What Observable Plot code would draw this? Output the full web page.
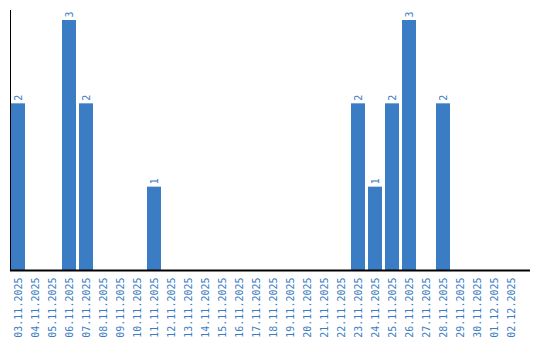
<!DOCTYPE html>
<html>
<head>
<meta charset="utf-8">
<script src="https://cdn.jsdelivr.net/npm/d3@7"></script>
<script src="https://cdn.jsdelivr.net/npm/@observablehq/plot@0.6"></script>
<style>
  html, body { margin: 0; padding: 0; background: #fff; }
  #chart svg { display: block; }
</style>
</head>
<body>
<div id="chart"></div>
<script>
const dates = [
  "03.11.2025","04.11.2025","05.11.2025","06.11.2025","07.11.2025","08.11.2025",
  "09.11.2025","10.11.2025","11.11.2025","12.11.2025","13.11.2025","14.11.2025",
  "15.11.2025","16.11.2025","17.11.2025","18.11.2025","19.11.2025","20.11.2025",
  "21.11.2025","22.11.2025","23.11.2025","24.11.2025","25.11.2025","26.11.2025",
  "27.11.2025","28.11.2025","29.11.2025","30.11.2025","01.12.2025","02.12.2025"
];
const counts = [
  2,0,0,3,2,0,
  0,0,1,0,0,0,
  0,0,0,0,0,0,
  0,0,2,1,2,3,
  0,2,0,0,0,0
];

const data = dates.map((d, i) => ({date: d, value: counts[i]}));
const nonZero = data.filter(d => d.value > 0);

const blue = "#3b7dc4";
const font = "'DejaVu Sans Mono', monospace";

const chart = Plot.plot({
  width: 540,
  height: 340,
  marginTop: 10,
  marginLeft: 10,
  marginRight: 10,
  marginBottom: 70,
  style: {fontFamily: font, fontSize: "10px", background: "#fff"},
  x: {domain: dates, range: [9.5, 519.5], paddingInner: 0.176, paddingOuter: 0.088},
  y: {domain: [0, 3.12], axis: null},
  marks: [
    Plot.barY(data, {x: "date", y: "value", fill: blue}),
    Plot.text(nonZero, {
      x: "date", y: "value", text: d => String(d.value),
      rotate: -90, textAnchor: "start", lineAnchor: "middle",
      dy: -3, fill: blue, fontSize: 10, fontFamily: font
    }),
    Plot.axisX({
      tickRotate: -90, tickSize: 0, tickPadding: 7,
      fill: blue, fontSize: 10, fontFamily: font, label: null
    }),
    Plot.ruleY([0], {stroke: "#000", strokeWidth: 2}),
    Plot.frame({anchor: "left", stroke: "#000", strokeWidth: 1})
  ]
});
document.getElementById("chart").appendChild(chart);
</script>
</body>
</html>
